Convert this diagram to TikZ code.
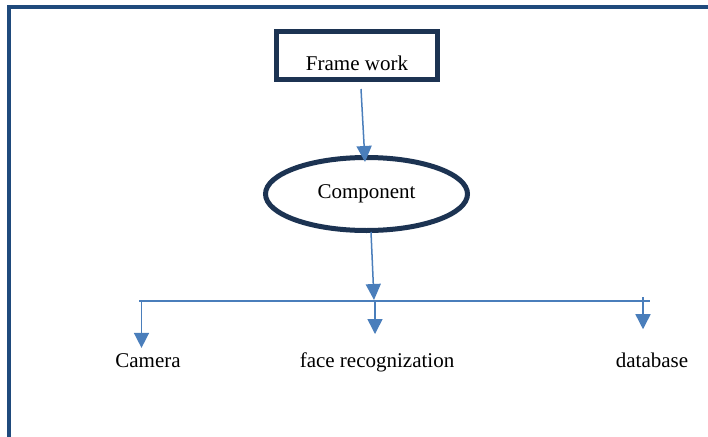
\documentclass[tikz,border=0pt]{standalone}
\usepackage{fontspec}
\setmainfont{Liberation Serif}
\usetikzlibrary{arrows.meta,shapes.geometric,calc}
\definecolor{framecol}{HTML}{1F4A7C}
\definecolor{navy}{HTML}{1C3352}
\definecolor{arrcol}{HTML}{4A7EBB}
\tikzset{
  lbl/.style={font=\fontsize{21}{25}\selectfont, inner sep=0pt},
  boxnode/.style={draw=navy, line width=5pt, rectangle, lbl,
    minimum width=161pt, minimum height=48pt, text height=29pt, text depth=0pt},
  ellnode/.style={draw=navy, line width=5pt, ellipse, lbl,
    minimum width=202pt, minimum height=73pt},
  arr/.style={draw=arrcol, line width=1.5pt, -{Triangle[width=15pt,length=16pt]}},
  droparr/.style={draw=arrcol, line width=1.5pt, -{Triangle[width=15pt,length=15pt]}},
  bus/.style={draw=arrcol, line width=1.8pt}
}
\begin{document}
\begin{tikzpicture}[x=1pt,y=-1pt]
\useasboundingbox (0,0) rectangle (708,436);
% outer frame, running off the right and bottom edges
\draw[framecol, line width=4.5pt] (9,445) -- (9,7) -- (715,7);

\node[boxnode] (fw) at (357,55.5) {Frame work};
\node[ellnode] (comp) at (366.5,194) {Component};

\draw[arr] ($(fw.south)+(4,7)$) -- ($(comp.north)+(-1.5,7)$);

% branch line
\coordinate (busL) at (139,301);
\coordinate (busR) at (650,301);
\coordinate (busM) at (374,300);
\draw[arr] ($(comp.south)+(4.5,-1)$) -- (busM);
\draw[bus] (busL) -- (busR);

\node[lbl, anchor=base] (cam) at (148,367) {Camera};
\node[lbl, anchor=base] (face) at (377,367) {face recognization};
\node[lbl, anchor=base] (db) at (652,367) {database};

\coordinate (d1) at (141.5,300.1);
\coordinate (d2) at (375,301);
\coordinate (d3) at (643,297);
\draw[droparr, shorten >=5pt] (d1) -- (d1 |- cam.north);
\draw[droparr, shorten >=18pt] (d2) -- (d2 |- face.north);
\draw[droparr, shorten >=23pt] (d3) -- (d3 |- db.north);
\end{tikzpicture}
\end{document}
